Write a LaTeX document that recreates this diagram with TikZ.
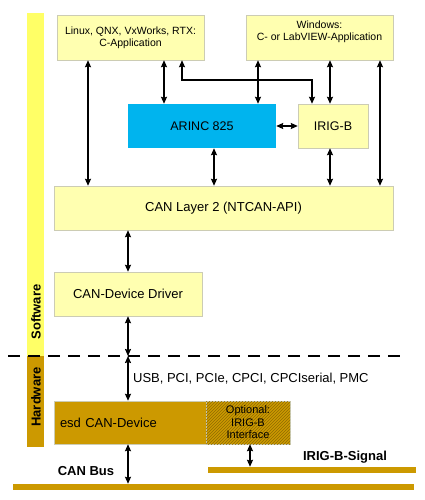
\documentclass[tikz,border=0pt]{standalone}
\usepackage{fontspec}
\setmainfont{Liberation Sans}
\usepackage{xcolor}
\usepackage{tikz}
\usetikzlibrary{arrows.meta, positioning, patterns}
\definecolor{boxyellow}{HTML}{FFFFB0}
\definecolor{swyellow}{HTML}{FFFF66}
\definecolor{hwgold}{HTML}{CC9900}
\definecolor{arinccyan}{HTML}{00B4EE}
\definecolor{boxedge}{HTML}{CCCCB4}

\begin{document}
\begin{tikzpicture}[x=1pt, y=-1pt, >={Stealth[length=7pt, width=6pt, inset=1pt]},
    every node/.style={font=\fontsize{13}{15}\selectfont},
    swbox/.style={draw=boxedge, fill=boxyellow, inner sep=0pt, align=center},
    hwbox/.style={draw=boxedge, fill=hwgold, inner sep=0pt},
    bus/.style={fill=hwgold, inner sep=0pt, minimum height=6pt},
    link/.style={<->, line width=1.6pt},
    sidelabel/.style={rotate=90, font=\bfseries\fontsize{13}{15}\selectfont}]

    \useasboundingbox (0,0) rectangle (424,500);

    % Software / hardware bars on the left
    \fill[swyellow] (27,13) rectangle (44,356);
    \fill[hwgold] (27,356) rectangle (44,447);
    \node[sidelabel] (sw) at (36,312) {Software};
    \node[sidelabel] (hw) at (36,397) {Hardware};

    % Application boxes
    \node[swbox, minimum width=147pt, minimum height=45pt,
          font=\fontsize{10.5}{12}\selectfont] (lnx) at (130.5,37.5)
          {Linux, QNX, VxWorks, RTX:\\C-Application};
    \node[swbox, minimum width=147pt, minimum height=45pt,
          font=\fontsize{10.5}{12}\selectfont] (win) at (319.5,37.5)
          {Windows:\\C- or LabVIEW-Application\\[1pt]};

    % ARINC 825 and IRIG-B
    \node[fill=arinccyan, inner sep=0pt, minimum width=148pt, minimum height=44pt,
          font=\fontsize{12.5}{14}\selectfont] (arinc) at (202,126) {ARINC 825};
    \node[swbox, minimum width=70pt, minimum height=44pt,
          font=\fontsize{12.5}{14}\selectfont] (irig) at (333,126) {IRIG-B};

    % CAN layer and driver
    \node[swbox, minimum width=339pt, minimum height=44pt] (layer) at (223.5,208)
          {CAN Layer 2 (NTCAN-API)};
    \node[swbox, minimum width=148pt, minimum height=44pt] (driver) at (128,294)
          {CAN-Device Driver};

    % Hardware
    \node[hwbox, minimum width=152pt, minimum height=43pt, text width=140pt,
          inner xsep=6pt, align=left] (esd) at (130,422.5) {esd CAN-Device};
    \node[hwbox, minimum width=84pt, minimum height=43pt, align=center,
          font=\fontsize{11}{12.5}\selectfont,
          postaction={pattern=north east lines, pattern color=hwgold!70!black}]
          (opt) at (248,422.5) {Optional:\\IRIG-B\\Interface};

    % Bus lines
    \node[bus, minimum width=401pt] (canbus) at (213.5,487) {};
    \node[bus, minimum width=208pt] (irigbus) at (312,470) {};
    \node[font=\bfseries\fontsize{13}{15}\selectfont] (canlbl) at (86,471) {CAN Bus};
    \node[font=\bfseries\fontsize{13}{15}\selectfont] (iriglbl) at (345,457) {IRIG-B-Signal};

    % Software / hardware border
    \draw[line width=1.6pt, dash pattern=on 12pt off 8pt] (8,356) -- (403,356);
    \coordinate (border) at (128,356);

    % Connectors between the software blocks
    \draw[link] (lnx.south -| 88,0) -- (layer.north -| 88,0);
    \draw[link] (lnx.south -| 164,0) -- (arinc.north -| 164,0);
    \draw[link] (lnx.south -| 182,0) |- (312,80) -- (irig.north -| 312,0);
    \draw[link] (win.south -| 258,0) -- (arinc.north -| 258,0);
    \draw[link] (win.south -| 330,0) -- (irig.north -| 330,0);
    \draw[link] (win.south -| 380,0) -- (layer.north -| 380,0);
    \draw[link] (arinc.east) -- (irig.west);
    \draw[link] (arinc.south -| 214,0) -- (layer.north -| 214,0);
    \draw[link] (irig.south -| 330,0) -- (layer.north -| 330,0);
    \draw[link] (layer.south -| 128,0) -- (driver.north);

    % Driver down to the device
    \draw[link] (driver.south) -- (border);
    \draw[link] (border) -- (esd.north -| 128,0)
        node[midway, right, xshift=1pt] (ifc)
        {USB, PCI, PCIe, CPCI, CPCIserial, PMC};
    \draw[link] (esd.south -| 128,0) -- (canbus.north -| 128,0);
    \draw[link] (opt.south -| 250,0) -- (irigbus.north -| 250,0);

\end{tikzpicture}
\end{document}
